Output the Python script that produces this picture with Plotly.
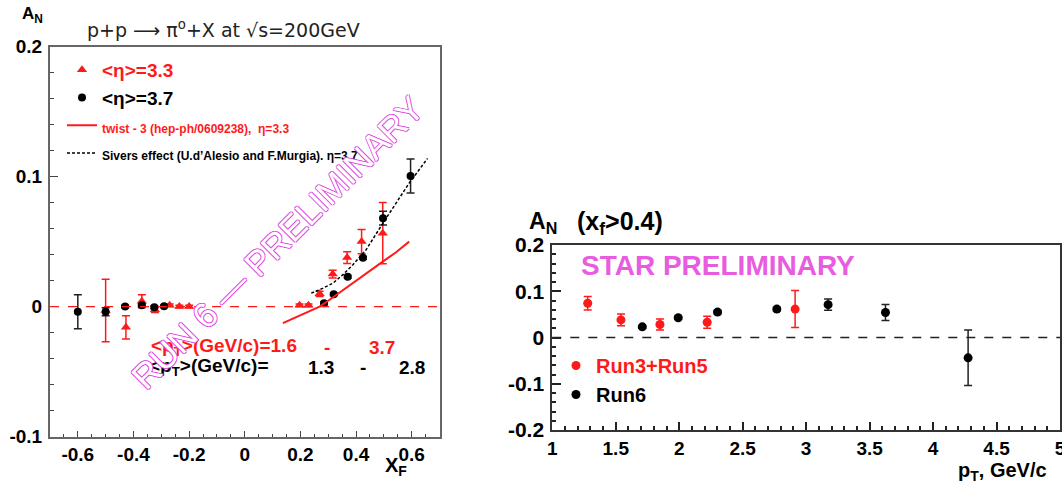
import plotly.graph_objects as go

W, H = 1062, 485

# ---------------- data: left panel (A_N vs x_F) ----------------
xf_black = [-0.60, -0.50, -0.43, -0.37, -0.325, -0.29, 0.285, 0.32, 0.37, 0.425, 0.497, 0.596]
an_black = [-0.004, -0.004, 0.000, 0.001, -0.0005, 0.0003, 0.0026, 0.0095, 0.023, 0.0375, 0.068, 0.1005]
err_black = [0.013, 0.003, 0.001, 0.001, 0.001, 0.001, 0.001, 0.001, 0.001, 0.001, 0.0053, 0.013]

xf_red = [-0.50, -0.427, -0.37, -0.323, -0.27, -0.235, -0.20, 0.197, 0.229, 0.269, 0.316, 0.368, 0.42, 0.496]
an_red = [-0.003, -0.016, 0.004, -0.0025, 0.001, 0.0, 0.0, 0.001, 0.001, 0.0098, 0.025, 0.0377, 0.050, 0.0565]
err_red = [0.024, 0.009, 0.005, 0.002, 0.001, 0.001, 0.001, 0.001, 0.001, 0.002, 0.003, 0.0045, 0.0093, 0.0235]

twist_x = [0.137, 0.17, 0.20, 0.235, 0.269, 0.30, 0.34, 0.388, 0.44, 0.496, 0.545, 0.591]
twist_y = [-0.0128, -0.0095, -0.0066, -0.0033, 0.0, 0.0045, 0.0105, 0.018, 0.026, 0.0346, 0.042, 0.050]

sivers_x = [0.239, 0.28, 0.317, 0.355, 0.388, 0.436, 0.496, 0.545, 0.591, 0.657]
sivers_y = [0.0103, 0.014, 0.018, 0.025, 0.032, 0.0436, 0.064, 0.080, 0.095, 0.114]

xf_ticks = [-0.6, -0.4, -0.2, 0, 0.2, 0.4, 0.6]
xf_ticktext = ["-0.6", "-0.4", "-0.2", "0", "0.2", "0.4", "0.6"]
an_ticks_left = [-0.1, 0, 0.1, 0.2]
an_ticktext_left = ["-0.1", "0", "0.1", "0.2"]

# ---------------- data: right panel (A_N vs p_T) ----------------
pt_red = [1.279, 1.541, 1.848, 2.22, 2.913]
an_red2 = [0.074, 0.038, 0.028, 0.033, 0.0615]
err_red2 = [0.0145, 0.0127, 0.012, 0.013, 0.040]

pt_black = [1.709, 1.992, 2.302, 2.769, 3.173, 3.625, 4.276]
an_black2 = [0.023, 0.0426, 0.055, 0.0615, 0.071, 0.054, -0.044]
err_black2 = [0.003, 0.003, 0.004, 0.004, 0.012, 0.0175, 0.060]

pt_ticks = [1, 1.5, 2, 2.5, 3, 3.5, 4, 4.5, 5]
pt_ticktext = ["1", "1.5", "2", "2.5", "3", "3.5", "4", "4.5", "5"]
an_ticks_right = [-0.2, -0.1, 0, 0.1, 0.2]
an_ticktext_right = ["-0.2", "-0.1", "0", "0.1", "0.2"]

RED = "#ff1a1a"
MAG = "#e85ce0"
FONT = "Liberation Sans"


def px(x):
    return x / W


def py(y):
    return 1 - y / H


fig = go.Figure()

# left panel traces
fig.add_trace(go.Scatter(
    x=xf_red, y=an_red, mode="markers", xaxis="x", yaxis="y",
    marker=dict(symbol="triangle-up", size=9, color=RED),
    error_y=dict(type="data", array=err_red, color=RED, thickness=1.5, width=4),
    name="<span style='color:#ff1a1a'>&lt;η&gt;=3.3</span>", legend="legend"))
fig.add_trace(go.Scatter(
    x=xf_black, y=an_black, mode="markers", xaxis="x", yaxis="y",
    marker=dict(symbol="circle", size=8, color="black"),
    error_y=dict(type="data", array=err_black, color="#222", thickness=1.5, width=4),
    name="&lt;η&gt;=3.7", legend="legend"))
fig.add_trace(go.Scatter(
    x=twist_x, y=twist_y, mode="lines", xaxis="x", yaxis="y",
    line=dict(color=RED, width=2),
    name="<span style='color:#ff1a1a;font-size:12px'>twist - 3 (hep-ph/0609238),  η=3.3</span>",
    legend="legend"))
fig.add_trace(go.Scatter(
    x=sivers_x, y=sivers_y, mode="lines", xaxis="x", yaxis="y",
    line=dict(color="black", width=1.5, dash="3px,2px"),
    name="<span style='font-size:12px'>Sivers effect (U.d’Alesio and F.Murgia). η=3.7</span>",
    legend="legend"))

# right panel traces
fig.add_trace(go.Scatter(
    x=pt_red, y=an_red2, mode="markers", xaxis="x2", yaxis="y2",
    marker=dict(symbol="circle", size=9, color=RED),
    error_y=dict(type="data", array=err_red2, color=RED, thickness=1.5, width=4),
    name="<span style='color:#ff1a1a'>Run3+Run5</span>", legend="legend2"))
fig.add_trace(go.Scatter(
    x=pt_black, y=an_black2, mode="markers", xaxis="x2", yaxis="y2",
    marker=dict(symbol="circle", size=9, color="black"),
    error_y=dict(type="data", array=err_black2, color="#222", thickness=1.5, width=4),
    name="Run6", legend="legend2"))

axis_common = dict(showgrid=False, zeroline=False, showline=True, mirror=True,
                   ticks="inside", fixedrange=True, automargin=False)

left_dom_x = [px(50), px(439.5)]
left_dom_y = [py(436.5), py(46.7)]
right_dom_x = [px(552.3), px(1060)]
right_dom_y = [py(430), py(245)]

fig.update_layout(
    width=W, height=H, autosize=False,
    margin=dict(l=0, r=0, t=0, b=0, autoexpand=False),
    paper_bgcolor="white", plot_bgcolor="white",
    font=dict(family=FONT, color="black"),
    xaxis=dict(domain=left_dom_x, anchor="y", range=[-0.7, 0.7],
               tickvals=xf_ticks, ticktext=xf_ticktext, ticklen=6, tickwidth=1.2,
               tickcolor="#444", linecolor="#666", linewidth=2,
               tickfont=dict(family=FONT, size=19, weight="bold"),
               minor=dict(dtick=0.05, tick0=0, ticks="inside", ticklen=3, tickcolor="#444"),
               **axis_common),
    yaxis=dict(domain=left_dom_y, anchor="x", range=[-0.1, 0.2],
               tickvals=an_ticks_left, ticktext=an_ticktext_left, ticklen=8, tickwidth=1.2,
               tickcolor="#444", linecolor="#666", linewidth=2,
               tickfont=dict(family=FONT, size=19, weight="bold"),
               minor=dict(dtick=0.02, tick0=0, ticks="inside", ticklen=4, tickcolor="#444"),
               ticklabelstandoff=2,
               **axis_common),
    xaxis2=dict(domain=right_dom_x, anchor="y2", range=[1, 5],
                tickvals=pt_ticks, ticktext=pt_ticktext, ticklen=8, tickwidth=1.5,
                tickcolor="#222", linecolor="#333", linewidth=2,
                tickfont=dict(family=FONT, size=19, weight="bold"),
                ticklabeloverflow="allow",
                minor=dict(dtick=0.1, tick0=1, ticks="inside", ticklen=4, tickcolor="#222"),
                **axis_common),
    yaxis2=dict(domain=right_dom_y, anchor="x2", range=[-0.2, 0.2],
                tickvals=an_ticks_right, ticktext=an_ticktext_right, ticklen=9, tickwidth=1.5,
                tickcolor="#222", linecolor="#333", linewidth=2,
                tickfont=dict(family=FONT, size=21, weight="bold"),
                minor=dict(dtick=0.02, tick0=0, ticks="inside", ticklen=4, tickcolor="#222"),
                ticklabelstandoff=2,
                **axis_common),
    legend=dict(x=px(62), y=py(51), xanchor="left", yanchor="top",
                bgcolor="rgba(0,0,0,0)", borderwidth=0,
                font=dict(family=FONT, size=19, color="black", weight="bold"),
                itemclick=False, itemdoubleclick=False, tracegroupgap=0),
    legend2=dict(x=px(556), y=py(346), xanchor="left", yanchor="top",
                 bgcolor="rgba(0,0,0,0)", borderwidth=0,
                 font=dict(family=FONT, size=20, color="black", weight="bold"),
                 itemclick=False, itemdoubleclick=False),
    showlegend=True,
)

# zero lines
fig.add_shape(type="line", xref="x domain", x0=0, x1=1, yref="y", y0=0, y1=0,
              line=dict(color=RED, width=1.2, dash="dash"))
fig.add_shape(type="line", xref="x2 domain", x0=0, x1=1, yref="y2", y0=0, y1=0,
              line=dict(color="#222", width=1.5, dash="dash"))

ann = []


def note(text, x, y, size, color="black", xanchor="center", yanchor="middle",
         weight="bold", family=FONT, angle=0, shadow=None):
    f = dict(family=family, size=size, color=color, weight=weight)
    if shadow:
        f["shadow"] = shadow
    ann.append(dict(text=text, x=px(x), y=py(y), xref="paper", yref="paper",
                    xanchor=xanchor, yanchor=yanchor, showarrow=False,
                    textangle=angle, font=f))


# left panel texts
note("A<sub>N</sub>", 20, 15, 17, xanchor="left")
note("p+p ⟶ π<sup>o</sup>+X at √s=200GeV", 223, 29, 19, color="#222",
     weight="normal", family="DejaVu Sans")
note("X<sub>F</sub>", 383, 466, 20, xanchor="left")
note("&lt;p<sub>T</sub>&gt;(GeV/c)=1.6", 149, 347, 19, color=RED, xanchor="left")
note("-", 327, 347, 19, color=RED)
note("3.7", 382, 347, 19, color=RED)
note("&lt;p<sub>T</sub>&gt;(GeV/c)=", 147, 367, 19, xanchor="left")
note("1.3", 321, 367, 19)
note("-", 363, 367, 19)
note("2.8", 412, 367, 19)
note("RUN 6 — PRELIMINARY", 277, 242, 35, color="white", weight="normal",
     angle=-45,
     shadow="1px 0 0 #e040e0, -1px 0 0 #e040e0, 0 1px 0 #e040e0, 0 -1px 0 #e040e0")

# right panel texts
note("A<sub>N</sub>", 527, 223, 23, xanchor="left")
note("(x<sub>f</sub>&gt;0.4)", 575, 223, 25, xanchor="left")
note("STAR PRELIMINARY", 579, 265, 28, color=MAG, xanchor="left")
note("p<sub>T</sub>, GeV/c", 1049, 471, 20, xanchor="right")

fig.update_layout(annotations=ann)

fig.write_html("out.html",
               config={"displayModeBar": False},
               post_script="document.body.style.margin='0px';document.body.style.padding='0px';")
